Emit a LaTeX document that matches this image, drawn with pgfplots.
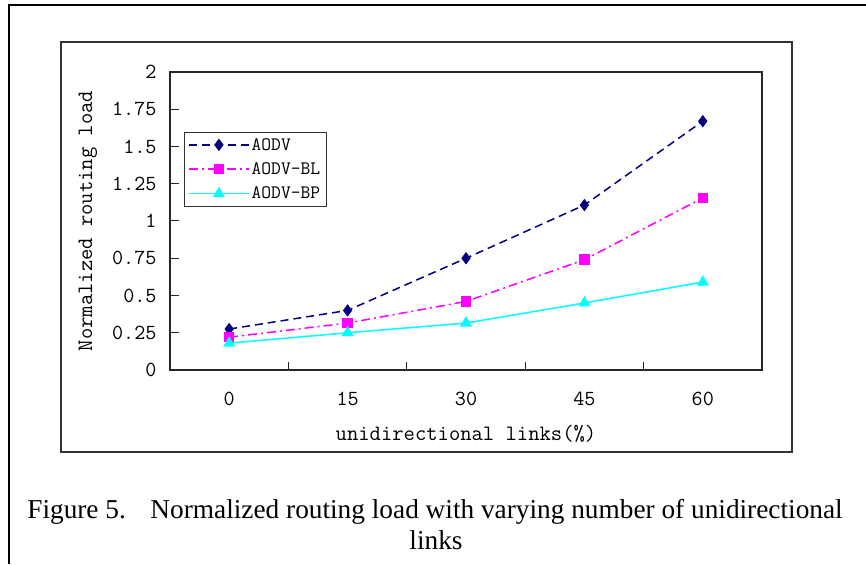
\documentclass[border=0pt]{standalone}
\usepackage{pgfplots}
\pgfplotsset{compat=1.18}
\usepackage{fontspec}
\setmainfont{Liberation Serif}
\definecolor{aodv}{HTML}{000080}
\definecolor{aodvbl}{HTML}{FF00FF}
\definecolor{aodvbp}{HTML}{00FFFF}
\begin{document}
\begin{tikzpicture}
\useasboundingbox (0,0) rectangle (866pt,564pt);
% outer frame
\draw[line width=2pt] (9pt,0pt) -- (9pt,559pt) -- (866pt,559pt);
% chart box
\draw[line width=1.5pt, black!80] (61pt,112pt) rectangle (792pt,522pt);
\begin{axis}[
  at={(170pt,194pt)}, anchor=south west,
  scale only axis, width=592pt, height=298pt,
  xmin=-0.5, xmax=4.5, ymin=0, ymax=2,
  axis line style={line width=1.2pt, black!85},
  tick style={line width=1pt, black!85},
  tick align=inside,
  xtick={0,1,2,3,4}, xticklabels={0,15,30,45,60},
  major x tick style={draw=none},
  minor xtick={0.5,1.5,2.5,3.5},
  minor tick length=8pt,
  ytick={0,0.25,...,2},
  yticklabels={0,0.25,0.5,0.75,1,1.25,1.5,1.75,2},
  major tick length=9pt,
  xtick pos=bottom, ytick pos=left,
  /pgf/number format/assume math mode=true,
  ticklabel style={font=\fontsize{21.5}{24}\selectfont\ttfamily},
  xticklabel style={yshift=-19pt},
  yticklabel style={xshift=-10pt},
  xlabel={unidirectional links(\%)},
  ylabel={Normalized routing load},
  label style={font=\fontsize{22}{26}\selectfont\ttfamily},
  xlabel style={at={(axis description cs:0.5,-0.2148)}, anchor=center},
  ylabel style={at={(axis description cs:-0.1385,0.5)}, anchor=center},
  legend style={at={(axis description cs:0.0236,0.7987)}, anchor=north west,
    font=\fontsize{19}{22}\selectfont\ttfamily, draw=black!80,
    row sep=7pt, inner sep=4pt, cells={anchor=west}},
  legend image code/.code={\draw[line width=1.5pt,mark repeat=2,mark phase=2] plot coordinates {(0pt,0pt) (30pt,0pt) (60pt,0pt)};},
]
\addplot[aodv, line width=1.5pt, dash pattern=on 8pt off 5pt, mark=diamond*, mark size=5pt, mark options={solid}]
  coordinates {(0,0.275) (1,0.40) (2,0.75) (3,1.107) (4,1.67)};
\addlegendentry{AODV}
\addplot[aodvbl, line width=1.5pt, dash pattern=on 9pt off 4pt on 2pt off 4pt, mark=square*, mark size=4.5pt, mark options={solid}]
  coordinates {(0,0.22) (1,0.315) (2,0.46) (3,0.74) (4,1.155)};
\addlegendentry{AODV-BL}
\addplot[aodvbp, line width=1.5pt, mark=triangle*, mark size=5.5pt, mark options={solid}]
  coordinates {(0,0.18) (1,0.25) (2,0.315) (3,0.45) (4,0.59)};
\addlegendentry{AODV-BP}
\end{axis}
\node[anchor=base, font=\fontsize{27.3}{30}\selectfont] at (435pt,45pt)
  {Figure 5.\hspace{0.9em}Normalized routing load with varying number of unidirectional};
\node[anchor=base, font=\fontsize{27.3}{30}\selectfont] at (436pt,14pt) {links};
\end{tikzpicture}
\end{document}
